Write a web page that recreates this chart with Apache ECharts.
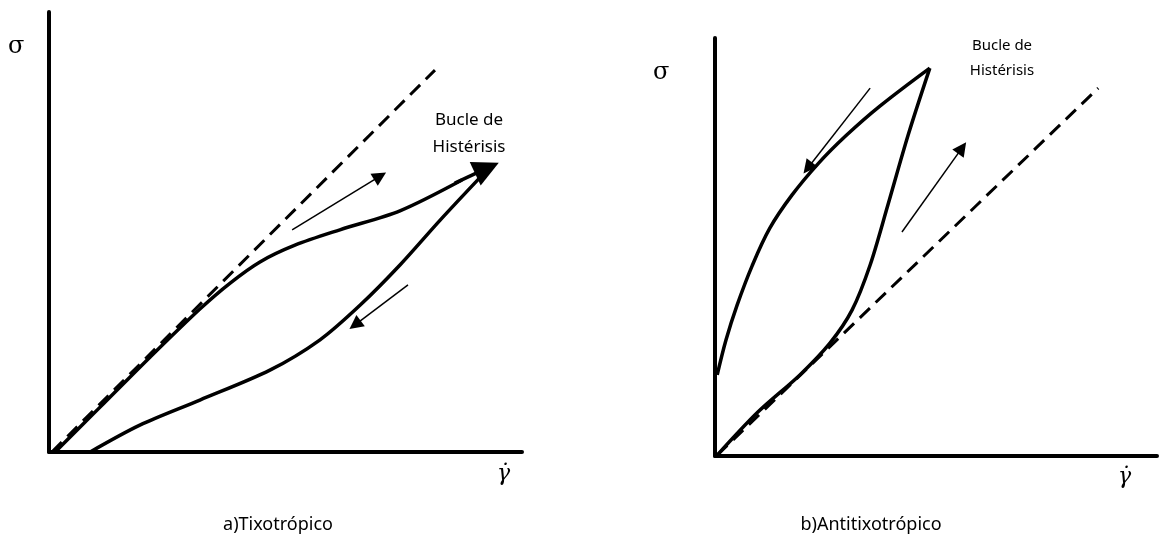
<!DOCTYPE html>
<html>
<head>
<meta charset="utf-8">
<script src="https://cdn.jsdelivr.net/npm/echarts@6/dist/echarts.min.js"></script>
<style>
  html, body { margin: 0; padding: 0; background: #fff; }
  #chart { width: 1159px; height: 545px; }
</style>
</head>
<body>
<div id="chart"></div>
<script>
// Panel captions and annotation text
const captions = ['a)Tixotrópico', 'b)Antitixotrópico'];
const loopLabel = 'Bucle de\nHistérisis';

// a) Thixotropic: shear stress vs shear rate (arbitrary units 0..10)
const tixoNewtonian = [[0.06, 0], [8.16, 8.68]];
const tixoUp = [[0.13, 0], [1.08, 1.02], [2.14, 2.16], [3.19, 3.25], [3.83, 3.84],
                [4.46, 4.32], [5.20, 4.70], [6.15, 5.05], [7.42, 5.48], [8.73, 6.18]];
const tixoDown = [[9.22, 6.36], [8.27, 5.27], [7.42, 4.25], [6.58, 3.34], [5.73, 2.55],
                  [4.67, 1.86], [3.19, 1.18], [1.92, 0.61], [0.87, 0]];
const tixoTip = [[8.58, 6.11], [9.26, 6.45]];
const tixoArrows = [
  [[5.14, 5.05], [7.00, 6.27]],
  [[7.59, 3.80], [6.47, 2.89]]
];

// b) Anti-thixotropic
const antiNewtonian = [[0.05, 0.02], [8.67, 8.80]];
const antiUp = [[0.05, 0.02], [0.97, 1.05], [1.92, 1.94], [2.60, 2.70], [3.10, 3.49],
                [3.51, 4.57], [3.91, 6.00], [4.37, 7.68], [4.86, 9.28]];
const antiDown = [[4.86, 9.28], [3.73, 8.37], [2.96, 7.66], [2.33, 6.99], [1.74, 6.24],
                  [1.24, 5.45], [0.84, 4.55], [0.50, 3.61], [0.25, 2.78], [0.05, 1.94]];
const antiArrows = [
  [[4.23, 5.36], [5.59, 7.37]],
  [[3.51, 8.80], [2.10, 6.89]]
];

const chart = echarts.init(document.getElementById('chart'), null, { renderer: 'canvas' });

const axisLine = { show: true, onZero: false, lineStyle: { color: '#000', width: 4 } };
function ax(i) {
  return { type: 'value', gridIndex: i, min: 0, max: 10, axisLine,
    axisTick: { show: false }, axisLabel: { show: false }, splitLine: { show: false } };
}
function curve(i, data, extra) {
  return Object.assign({
    type: 'line', xAxisIndex: i, yAxisIndex: i, data, smooth: 0.3,
    showSymbol: false, silent: true,
    lineStyle: { color: '#000', width: 3.5 }
  }, extra || {});
}
function dashed(i, data) {
  return curve(i, data, { smooth: false, lineStyle: { color: '#000', width: 3, type: [14, 8] } });
}
function arrows(i, segs, size, width) {
  return {
    type: 'lines', coordinateSystem: 'cartesian2d', xAxisIndex: i, yAxisIndex: i,
    silent: true, symbol: ['none', 'triangle'], symbolSize: size,
    lineStyle: { color: '#000', width, opacity: 1, curveness: 0 },
    data: segs.map(s => ({ coords: s }))
  };
}

const sans = '"Noto Sans", sans-serif';
const txt = (x, y, text, size, extra) => ({
  type: 'text', x, y,
  style: Object.assign({ text, fill: '#000', font: size + 'px ' + sans }, extra || {})
});
const sigma = (x, y) => txt(x, y, 'σ', 24, { font: '24px "DejaVu Serif", serif' });
const gammaDot = (x, y) => txt(x, y, 'γ̇', 22, { font: 'italic 22px "DejaVu Serif", serif' });

chart.setOption({
  animation: false,
  backgroundColor: '#fff',
  grid: [
    { left: 49, top: 12, width: 473, height: 440 },
    { left: 715, top: 38, width: 442, height: 418 }
  ],
  xAxis: [ax(0), ax(1)],
  yAxis: [ax(0), ax(1)],
  series: [
    dashed(0, tixoNewtonian),
    curve(0, tixoUp),
    curve(0, tixoDown),
    arrows(0, [tixoTip], [20, 26], 3.5),
    arrows(0, tixoArrows, [10, 14], 1.5),
    dashed(1, antiNewtonian),
    curve(1, antiUp),
    curve(1, antiDown, { smooth: 0.35 }),
    arrows(1, antiArrows, [10, 14], 1.5)
  ],
  graphic: [
    sigma(8, 35),
    sigma(653, 61),
    gammaDot(497, 463),
    gammaDot(1118, 466),
    txt(469, 107, loopLabel, 17, { align: 'center', lineHeight: 27 }),
    txt(1002, 33, loopLabel, 15, { align: 'center', lineHeight: 25 }),
    txt(278, 516, captions[0], 18, { align: 'center' }),
    txt(871, 516, captions[1], 18, { align: 'center' })
  ]
});
</script>
</body>
</html>
